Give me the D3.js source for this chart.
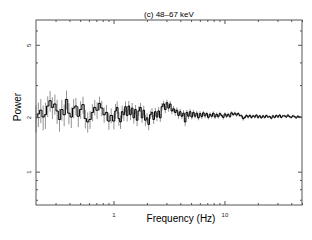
<!DOCTYPE html>
<html>
<head>
<meta charset="utf-8">
<script src="https://cdn.jsdelivr.net/npm/d3@7"></script>
<style>
	body { margin: 0; background: #fff; }
	svg { display: block; font-family: "Liberation Sans", Arial, sans-serif; }
</style>
</head>
<body>
<svg id="chart" width="312" height="240"></svg>
<script>
var title = "(c) 48\u201367 keV",
	xLabel = "Frequency (Hz)",
	yLabel = "Power";

var xMajor = [1, 10],
	xMinor = [0.3, 0.4, 0.5, 0.6, 0.7, 0.8, 0.9, 2, 3, 4, 5, 6, 7, 8, 9, 20, 30, 40, 50],
	yMajor = [1, 2, 5],
	yMinor = [0.7, 0.8, 0.9, 3, 4, 6];

// bin centres (Hz)
var freq = [0.200, 0.210, 0.221, 0.232, 0.243, 0.255, 0.268, 0.281, 0.296, 0.310,
	0.326, 0.342, 0.359, 0.377, 0.396, 0.416, 0.437, 0.458, 0.481, 0.505,
	0.531, 0.557, 0.585, 0.614, 0.645, 0.677, 0.711, 0.747, 0.784, 0.823,
	0.864, 0.908, 0.953, 1.008, 1.043, 1.079,
	1.117, 1.156, 1.197, 1.239, 1.282, 1.327, 1.373, 1.421, 1.471, 1.523,
	1.576, 1.631, 1.688, 1.747, 1.808, 1.872, 1.937, 2.005, 2.075, 2.148,
	2.223, 2.301, 2.381, 2.465, 2.551, 2.640, 2.732, 2.828, 2.927, 3.030,
	3.136, 3.245, 3.359, 3.476, 3.598, 3.724, 3.854, 3.989, 4.129, 4.273,
	4.423, 4.578, 4.738, 4.904, 5.076, 5.253, 5.437, 5.627, 5.824, 6.028,
	6.239, 6.457, 6.683, 6.917, 7.160, 7.410, 7.669, 7.938, 8.216, 8.503,
	8.801, 9.109, 9.428, 9.758, 10.10, 10.45, 10.82, 11.20, 11.59, 12.00,
	12.41, 12.85, 13.30, 13.76, 14.25, 14.75, 15.26, 15.80, 16.35, 16.92,
	17.51, 18.13, 18.76, 19.42, 20.10, 20.80, 21.53, 22.28, 23.06, 23.87,
	24.70, 25.57, 26.46, 27.39, 28.35, 29.34, 30.37, 31.43, 32.53, 33.67,
	34.85, 36.07, 37.33, 38.63, 39.99, 41.39, 42.83, 44.33, 45.89, 47.49,
	49.15];

var power = [1.98, 2.08, 2.18, 2.00, 2.06, 2.30, 2.46, 2.26, 2.36, 2.16,
	1.94, 2.20, 2.06, 2.50, 2.10, 2.00, 2.24, 2.30, 2.02, 2.20,
	2.34, 1.96, 1.88, 1.94, 2.12, 2.26, 2.18, 2.38, 2.24, 2.06,
	2.12, 1.90, 2.04, 1.90, 2.16, 2.26,
	1.96, 1.88, 2.14, 2.06, 2.28, 2.04, 2.30, 2.06, 2.24, 1.98,
	2.20, 1.92, 2.16, 2.26, 1.98, 2.18, 1.92, 1.98, 1.82, 2.06,
	2.12, 1.94, 2.14, 2.00, 2.16, 1.98, 2.28, 2.36, 2.20, 2.40,
	2.24, 2.36, 2.16, 2.22, 2.12, 2.18, 2.04, 2.14, 2.02, 2.10,
	1.88, 2.12, 2.02, 2.14, 2.00, 2.12, 2.02, 2.10, 1.98, 2.09,
	2.01, 2.11, 2.03, 2.09, 1.99, 2.07, 2.02, 2.10, 2.00, 2.07,
	2.01, 2.09, 2.04, 1.99, 2.08, 2.02, 2.07, 2.01, 2.11, 2.06,
	2.10, 2.05, 2.09, 2.04, 2.03, 1.96, 1.99, 2.04, 2.00, 2.04,
	1.99, 2.03, 2.00, 2.05, 1.99, 2.03, 1.98, 2.03, 1.99, 2.04,
	2.00, 2.01, 1.97, 2.03, 1.99, 2.04, 2.00, 2.05, 1.99, 2.03,
	2.03, 2.00, 2.05, 2.01, 1.99, 2.03, 2.01, 1.98, 2.02, 2.00,
	2.00];

var err = [0.34, 0.32, 0.33, 0.31, 0.34, 0.30, 0.32, 0.31, 0.30, 0.33,
	0.28, 0.29, 0.28, 0.30, 0.28, 0.26, 0.27, 0.25, 0.26, 0.24,
	0.25, 0.23, 0.24, 0.22, 0.23, 0.22, 0.23, 0.21, 0.22, 0.20,
	0.21, 0.20, 0.19, 0.19, 0.20, 0.18,
	0.17, 0.16, 0.17, 0.16, 0.16, 0.15, 0.15, 0.14, 0.15, 0.14,
	0.13, 0.14, 0.13, 0.13, 0.12, 0.13, 0.14, 0.12, 0.13, 0.11,
	0.12, 0.11, 0.11, 0.10, 0.11, 0.10, 0.11, 0.10, 0.10, 0.09,
	0.10, 0.09, 0.09, 0.08, 0.09, 0.08, 0.08, 0.08, 0.07, 0.08,
	0.10, 0.07, 0.07, 0.07, 0.06, 0.07, 0.06, 0.06, 0.06, 0.06,
	0.06, 0.05, 0.06, 0.05, 0.05, 0.05, 0.05, 0.05, 0.05, 0.05,
	0.05, 0.05, 0.04, 0.05, 0.04, 0.05, 0.04, 0.04, 0.04, 0.04,
	0.04, 0.04, 0.04, 0.04, 0.04, 0.05, 0.04, 0.04, 0.04, 0.04,
	0.04, 0.03, 0.04, 0.03, 0.04, 0.03, 0.03, 0.03, 0.03, 0.03,
	0.03, 0.03, 0.03, 0.03, 0.03, 0.03, 0.03, 0.03, 0.03, 0.03,
	0.03, 0.03, 0.03, 0.03, 0.03, 0.03, 0.03, 0.03, 0.03, 0.03,
	0.03];

var margin = { top: 20, right: 10, bottom: 35, left: 36 },
	width = 312 - margin.left - margin.right,
	height = 240 - margin.top - margin.bottom,
	frameColor = "#555";

var svg = d3.select("#chart");
var g = svg.append("g").attr("transform", "translate(" + margin.left + "," + margin.top + ")");

var x = d3.scaleLog().domain([0.2, 50]).range([0, width]);
var y = d3.scaleLog().domain([0.655, 6.85]).range([height, 0]);

var data = freq.map(function(f, i) { return { f: f, p: power[i], e: err[i] }; });

// error bars
g.append("g").selectAll("line").data(data).enter().append("line")
	.attr("x1", d => x(d.f)).attr("x2", d => x(d.f))
	.attr("y1", d => y(d.p - d.e)).attr("y2", d => y(d.p + d.e))
	.attr("stroke", "#939393").attr("stroke-width", 1);

// step line
var line = d3.line().x(d => x(d.f)).y(d => y(d.p)).curve(d3.curveStep);
g.append("path").datum(data)
	.attr("d", line)
	.attr("fill", "none").attr("stroke", "#000").attr("stroke-width", 1);

// axes, ticks inward on all four sides
function addAxis(axis, tr) {
	var a = g.append("g").attr("transform", tr).call(axis);
	a.select(".domain").remove();
	a.selectAll(".tick line").attr("stroke", frameColor);
	a.selectAll("text").attr("fill", "#222").style("font-size", "6px");
	return a;
}
addAxis(d3.axisBottom(x).tickValues(xMajor).tickSize(-4).tickPadding(8).tickFormat(d3.format("d")), "translate(0," + height + ")");
addAxis(d3.axisBottom(x).tickValues(xMinor).tickSize(-2).tickFormat(""), "translate(0," + height + ")");
addAxis(d3.axisTop(x).tickValues(xMajor).tickSize(-4).tickFormat(""), "translate(0,0)");
addAxis(d3.axisTop(x).tickValues(xMinor).tickSize(-2).tickFormat(""), "translate(0,0)");
var yl = addAxis(d3.axisLeft(y).tickValues(yMajor).tickSize(-4).tickFormat(d3.format("d")), "translate(0,0)");
yl.selectAll("text")
	.attr("x", 0).attr("dy", 0)
	.attr("transform", "translate(-5,0) rotate(-90)")
	.attr("text-anchor", "middle");
addAxis(d3.axisLeft(y).tickValues(yMinor).tickSize(-2).tickFormat(""), "translate(0,0)");
addAxis(d3.axisRight(y).tickValues(yMajor).tickSize(-4).tickFormat(""), "translate(" + width + ",0)");
addAxis(d3.axisRight(y).tickValues(yMinor).tickSize(-2).tickFormat(""), "translate(" + width + ",0)");

// frame
g.append("rect").attr("width", width).attr("height", height)
	.attr("fill", "none").attr("stroke", frameColor).attr("stroke-width", 1);

// labels
svg.append("text").attr("x", margin.left + width / 2).attr("y", 17)
	.attr("text-anchor", "middle").style("font-size", "8px").text(title);
svg.append("text").attr("x", 181).attr("y", 222)
	.attr("text-anchor", "middle").style("font-size", "10px").text(xLabel);
svg.append("text").attr("transform", "translate(21,107) rotate(-90)")
	.attr("text-anchor", "middle").style("font-size", "10px").text(yLabel);
</script>
</body>
</html>
